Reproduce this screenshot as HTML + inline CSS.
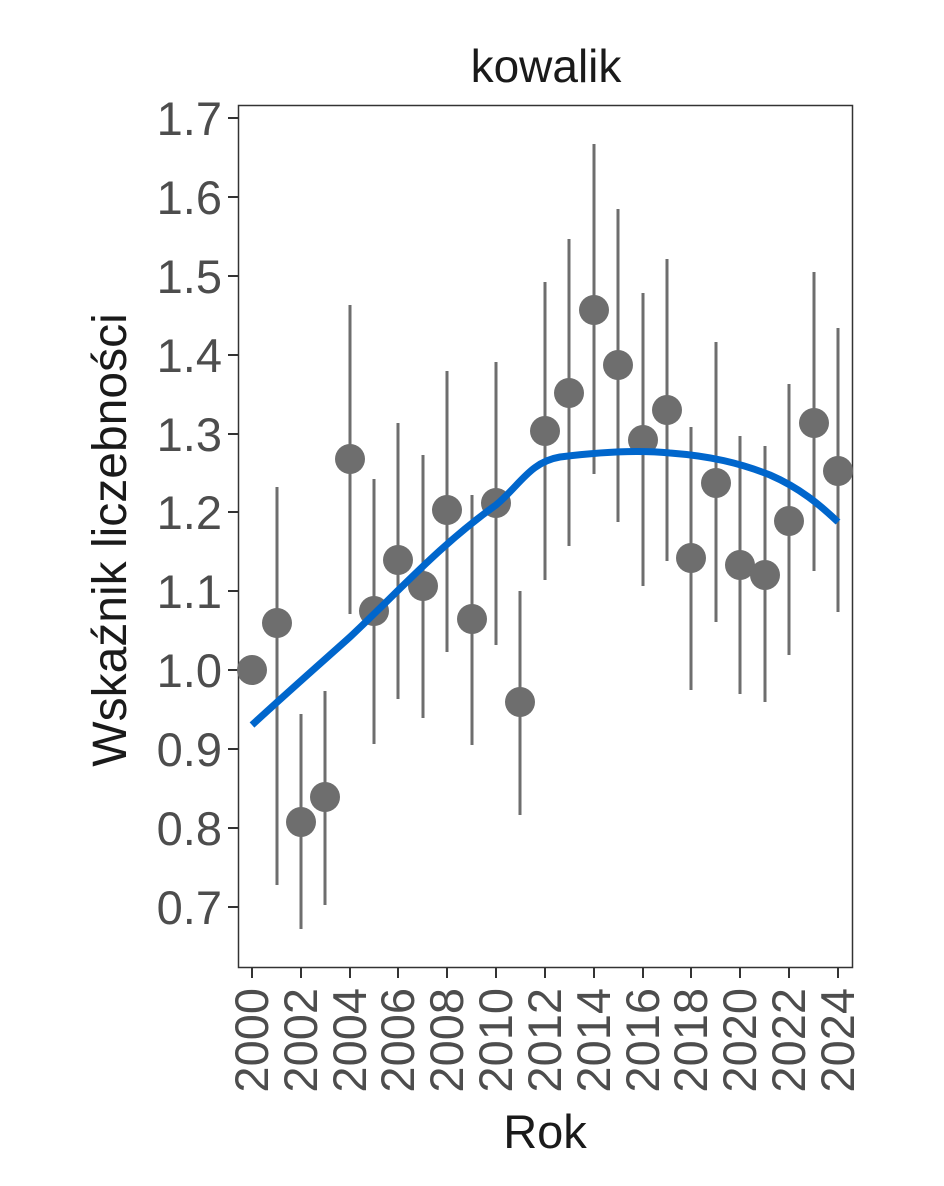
<!DOCTYPE html>
<html><head><meta charset="utf-8"><style>body{margin:0;background:#fff}</style></head><body>
<svg width="944" height="1181" xmlns="http://www.w3.org/2000/svg" font-family="Liberation Sans, sans-serif">
<rect width="944" height="1181" fill="#fff"/>
<text x="546" y="82" font-size="46" text-anchor="middle" fill="#1a1a1a">kowalik</text>
<rect x="238.5" y="105.5" width="614" height="862" fill="none" stroke="#333" stroke-width="1.5"/>
<g stroke="#333" stroke-width="2">
<line x1="228" y1="118" x2="238" y2="118"/><line x1="228" y1="197" x2="238" y2="197"/><line x1="228" y1="276" x2="238" y2="276"/><line x1="228" y1="355" x2="238" y2="355"/><line x1="228" y1="434" x2="238" y2="434"/><line x1="228" y1="512" x2="238" y2="512"/><line x1="228" y1="591" x2="238" y2="591"/><line x1="228" y1="670" x2="238" y2="670"/><line x1="228" y1="749" x2="238" y2="749"/><line x1="228" y1="828" x2="238" y2="828"/><line x1="228" y1="907" x2="238" y2="907"/>
</g>
<g fill="#4d4d4d" font-size="47" text-anchor="end">
<text x="222" y="135">1.7</text><text x="222" y="214">1.6</text><text x="222" y="293">1.5</text><text x="222" y="372">1.4</text><text x="222" y="451">1.3</text><text x="222" y="529">1.2</text><text x="222" y="608">1.1</text><text x="222" y="687">1.0</text><text x="222" y="766">0.9</text><text x="222" y="845">0.8</text><text x="222" y="924">0.7</text>
</g>
<g stroke="#333" stroke-width="2">
<line x1="252" y1="968" x2="252" y2="978"/><line x1="301" y1="968" x2="301" y2="978"/><line x1="350" y1="968" x2="350" y2="978"/><line x1="398" y1="968" x2="398" y2="978"/><line x1="447" y1="968" x2="447" y2="978"/><line x1="496" y1="968" x2="496" y2="978"/><line x1="545" y1="968" x2="545" y2="978"/><line x1="594" y1="968" x2="594" y2="978"/><line x1="643" y1="968" x2="643" y2="978"/><line x1="691" y1="968" x2="691" y2="978"/><line x1="740" y1="968" x2="740" y2="978"/><line x1="789" y1="968" x2="789" y2="978"/><line x1="838" y1="968" x2="838" y2="978"/>
</g>
<g fill="#4d4d4d" font-size="47" text-anchor="end">
<text transform="translate(268,988) rotate(-90)">2000</text>
<text transform="translate(317,988) rotate(-90)">2002</text>
<text transform="translate(366,988) rotate(-90)">2004</text>
<text transform="translate(414,988) rotate(-90)">2006</text>
<text transform="translate(463,988) rotate(-90)">2008</text>
<text transform="translate(512,988) rotate(-90)">2010</text>
<text transform="translate(561,988) rotate(-90)">2012</text>
<text transform="translate(610,988) rotate(-90)">2014</text>
<text transform="translate(659,988) rotate(-90)">2016</text>
<text transform="translate(707,988) rotate(-90)">2018</text>
<text transform="translate(756,988) rotate(-90)">2020</text>
<text transform="translate(805,988) rotate(-90)">2022</text>
<text transform="translate(854,988) rotate(-90)">2024</text>
</g>
<text x="545" y="1148" font-size="47" text-anchor="middle" fill="#1a1a1a">Rok</text>
<text transform="translate(126,540) rotate(-90)" font-size="48" text-anchor="middle" fill="#1a1a1a">Wskaźnik liczebności</text>
<g stroke="#6e6e6e" stroke-width="3">
<line x1="277" y1="885" x2="277" y2="487"/><line x1="301" y1="929" x2="301" y2="714"/><line x1="325" y1="905" x2="325" y2="691"/><line x1="350" y1="614" x2="350" y2="305"/><line x1="374" y1="744" x2="374" y2="479"/><line x1="398" y1="699" x2="398" y2="423"/><line x1="423" y1="718" x2="423" y2="455"/><line x1="447" y1="652" x2="447" y2="371"/><line x1="472" y1="745" x2="472" y2="495"/><line x1="496" y1="645" x2="496" y2="362"/><line x1="520" y1="815" x2="520" y2="591"/><line x1="545" y1="580" x2="545" y2="282"/><line x1="569" y1="546" x2="569" y2="239"/><line x1="594" y1="474" x2="594" y2="144"/><line x1="618" y1="522" x2="618" y2="209"/><line x1="643" y1="586" x2="643" y2="293"/><line x1="667" y1="561" x2="667" y2="259"/><line x1="691" y1="690" x2="691" y2="427"/><line x1="716" y1="622" x2="716" y2="342"/><line x1="740" y1="694" x2="740" y2="436"/><line x1="765" y1="702" x2="765" y2="446"/><line x1="789" y1="655" x2="789" y2="384"/><line x1="814" y1="571" x2="814" y2="272"/><line x1="838" y1="612" x2="838" y2="328"/>
</g>
<g fill="#6e6e6e">
<circle cx="252" cy="670" r="15"/><circle cx="277" cy="623" r="15"/><circle cx="301" cy="822" r="15"/><circle cx="325" cy="797" r="15"/><circle cx="350" cy="459" r="15"/><circle cx="374" cy="611" r="15"/><circle cx="398" cy="560" r="15"/><circle cx="423" cy="586" r="15"/><circle cx="447" cy="510" r="15"/><circle cx="472" cy="619" r="15"/><circle cx="496" cy="503" r="15"/><circle cx="520" cy="702" r="15"/><circle cx="545" cy="431" r="15"/><circle cx="569" cy="393" r="15"/><circle cx="594" cy="310" r="15"/><circle cx="618" cy="365" r="15"/><circle cx="643" cy="440" r="15"/><circle cx="667" cy="410" r="15"/><circle cx="691" cy="558" r="15"/><circle cx="716" cy="483" r="15"/><circle cx="740" cy="565" r="15"/><circle cx="765" cy="575" r="15"/><circle cx="789" cy="521" r="15"/><circle cx="814" cy="423" r="15"/><circle cx="838" cy="471" r="15"/>
</g>
<path d="M252,725 C290,690 330,655 350,637 C400,590 440,545 496,505 C520,485 530,462 560,457 C600,452 640,450 670,453 C710,456 740,463 770,475 C800,488 820,505 838,522" fill="none" stroke="#0066cc" stroke-width="7"/>
</svg>
</body></html>
